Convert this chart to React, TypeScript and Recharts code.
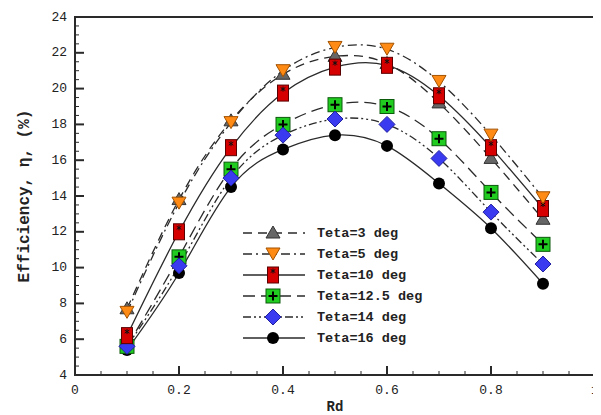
import React from "react";
import {
  LineChart,
  Line,
  XAxis,
  YAxis,
  Legend,
  ReferenceArea,
} from "recharts";

// Rd positions and efficiency values
const rd = [0.1, 0.2, 0.3, 0.4, 0.5, 0.6, 0.7, 0.8, 0.9];
const teta3 = [7.7, 13.8, 18.2, 20.8, 21.8, 21.4, 19.2, 16.1, 12.7];
const teta5 = [7.5, 13.6, 18.1, 21.0, 22.3, 22.2, 20.4, 17.4, 13.9];
const teta10 = [6.2, 12.0, 16.7, 19.75, 21.2, 21.3, 19.6, 16.7, 13.3];
const teta12_5 = [5.6, 10.6, 15.5, 18.0, 19.1, 19.0, 17.2, 14.2, 11.3];
const teta14 = [5.6, 10.1, 15.0, 17.4, 18.3, 18.0, 16.1, 13.1, 10.2];
const teta16 = [5.4, 9.7, 14.5, 16.6, 17.4, 16.8, 14.7, 12.2, 9.1];

const xMajor = [0, 0.2, 0.4, 0.6, 0.8, 1];
const xLabels = ["0", "0.2", "0.4", "0.6", "0.8", "1"];
const yMajor = [4, 6, 8, 10, 12, 14, 16, 18, 20, 22, 24];

const xTicks: number[] = [];
for (let i = 0; i <= 20; i++) xTicks.push(Math.round(i * 5) / 100);
const yTicks: number[] = [];
for (let v = 4; v <= 24; v += 0.5) yTicks.push(v);

const rows = rd.map((x, i) => ({
  rd: x,
  t3: teta3[i],
  t5: teta5[i],
  t10: teta10[i],
  t12: teta12_5[i],
  t14: teta14[i],
  t16: teta16[i],
}));

const mono = "'Liberation Mono', 'DejaVu Sans Mono', monospace";
const ink = "#2a2a2a";

const drawMarker = (kind: string, cx: number, cy: number, key?: any) => {
  if (kind === "tri")
    return (
      <path key={key} d={`M${cx},${cy - 7} L${cx + 7},${cy + 5} L${cx - 7},${cy + 5} Z`}
        fill="#666" stroke="#333" strokeWidth={1} />
    );
  if (kind === "itri")
    return (
      <path key={key} d={`M${cx - 7},${cy - 6} L${cx + 7},${cy - 6} L${cx},${cy + 6} Z`}
        fill="#ff8a14" stroke="#a35200" strokeWidth={1} />
    );
  if (kind === "rect")
    return (
      <g key={key}>
        <rect x={cx - 5.5} y={cy - 8} width={11} height={16} fill="#d60000" stroke="#5a0000" strokeWidth={1} />
        <path d={`M${cx},${cy - 6.5} L${cx},${cy - 1.5} M${cx - 2.3},${cy - 5.5} L${cx + 2.3},${cy - 2.5} M${cx + 2.3},${cy - 5.5} L${cx - 2.3},${cy - 2.5}`}
          stroke="#111" strokeWidth={1} />
      </g>
    );
  if (kind === "square")
    return (
      <g key={key}>
        <rect x={cx - 7} y={cy - 7} width={14} height={14} fill="#1fcc1f" stroke="#0c5a0c" strokeWidth={1} />
        <path d={`M${cx - 4.5},${cy} L${cx + 4.5},${cy} M${cx},${cy - 4.5} L${cx},${cy + 4.5}`}
          stroke="#000" strokeWidth={2} />
      </g>
    );
  if (kind === "diamond")
    return (
      <path key={key} d={`M${cx},${cy - 8} L${cx + 8},${cy} L${cx},${cy + 8} L${cx - 8},${cy} Z`}
        fill="#3a3af0" stroke="#2020a0" strokeWidth={1} />
    );
  return <circle key={key} cx={cx} cy={cy} r={6} fill="#000" />;
};

const series = [
  { key: "t16", name: "Teta=16 deg", dash: "", kind: "circle" },
  { key: "t12", name: "Teta=12.5 deg", dash: "12 6", kind: "square" },
  { key: "t14", name: "Teta=14 deg", dash: "8 3 2 3 2 3", kind: "diamond" },
  { key: "t3", name: "Teta=3 deg", dash: "9 6", kind: "tri" },
  { key: "t10", name: "Teta=10 deg", dash: "", kind: "rect" },
  { key: "t5", name: "Teta=5 deg", dash: "9 4 2 4", kind: "itri" },
];
const legendOrder = ["t3", "t5", "t10", "t12", "t14", "t16"];

const XTick = (props: any) => {
  const { x, y, payload } = props;
  const v = payload.value;
  const idx = xMajor.findIndex((m) => Math.abs(m - v) < 1e-6);
  return (
    <g>
      <line x1={x} x2={x} y1={y} y2={y - (idx >= 0 ? 9 : 4)} stroke={ink} strokeWidth={idx >= 0 ? 2 : 1} />
      {idx >= 0 && (
        <text x={x} y={y + 19} textAnchor="middle" fontFamily={mono} fontSize={13} fill="#222">
          {xLabels[idx]}
        </text>
      )}
    </g>
  );
};

const YTick = (props: any) => {
  const { x, y, payload } = props;
  const v = payload.value;
  const major = yMajor.includes(v);
  return (
    <g>
      <line x1={x} x2={x + (major ? 9 : 4)} y1={y} y2={y} stroke={ink} strokeWidth={major ? 2 : 1} />
      {major && (
        <text x={x - 8} y={y} textAnchor="end" dominantBaseline="central" fontFamily={mono} fontSize={13} fill="#222">
          {v}
        </text>
      )}
    </g>
  );
};

const renderLegend = () => (
  <svg width={190} height={130}>
    {legendOrder.map((k, i) => {
      const s = series.find((d) => d.key === k)!;
      const cy = 10 + i * 21;
      return (
        <g key={k}>
          <line x1={8} x2={70} y1={cy} y2={cy} stroke={ink} strokeWidth={1.3}
            strokeDasharray={s.dash || undefined} />
          {drawMarker(s.kind, 38, cy)}
          <text x={82} y={cy} dominantBaseline="central" fontFamily={mono} fontWeight="bold"
            fontSize={13.5} fill="#222">
            {s.name}
          </text>
        </g>
      );
    })}
  </svg>
);

export default function App() {
  return (
    <LineChart width={593} height={407} data={rows} margin={{ top: 9, right: 6, left: 0, bottom: 0 }}>
      <XAxis
        dataKey="rd"
        type="number"
        domain={[0, 1]}
        ticks={xTicks}
        interval={0}
        tick={XTick}
        tickLine={false}
        tickSize={0}
        tickMargin={0}
        height={40}
        axisLine={{ stroke: ink, strokeWidth: 2 }}
        label={({ viewBox }: any) => (
          <text x={viewBox.x + viewBox.width / 2} y={viewBox.y + 36} textAnchor="middle"
            fontFamily={mono} fontWeight="bold" fontSize={14} fill="#222">
            Rd
          </text>
        )}
      />
      <YAxis
        type="number"
        domain={[4, 24]}
        ticks={yTicks}
        interval={0}
        tick={YTick}
        tickLine={false}
        tickSize={0}
        tickMargin={0}
        width={67}
        axisLine={{ stroke: ink, strokeWidth: 2 }}
        label={({ viewBox }: any) => {
          const cx = viewBox.x + 17;
          const cy = viewBox.y + viewBox.height / 2;
          return (
            <text x={cx} y={cy} textAnchor="middle" dominantBaseline="central"
              transform={`rotate(-90 ${cx} ${cy})`} fontFamily={mono} fontWeight="bold"
              fontSize={16} fill="#222">
              Efficiency, η, (%)
            </text>
          );
        }}
      />
      <ReferenceArea x1={0} x2={1} y1={4} y2={24} fill="none" stroke={ink} strokeWidth={2} ifOverflow="visible" />
      {series.map((s) => (
        <Line
          key={s.key}
          dataKey={s.key}
          name={s.name}
          type="natural"
          stroke={ink}
          strokeWidth={1.3}
          strokeDasharray={s.dash || undefined}
          isAnimationActive={false}
          dot={(p: any) => drawMarker(s.kind, p.cx, p.cy, p.index)}
          activeDot={false}
        />
      ))}
      <Legend
        layout="vertical"
        align="center"
        verticalAlign="middle"
        content={renderLegend}
        wrapperStyle={{ position: "absolute", left: 227, top: 215, width: 190 }}
      />
    </LineChart>
  );
}
